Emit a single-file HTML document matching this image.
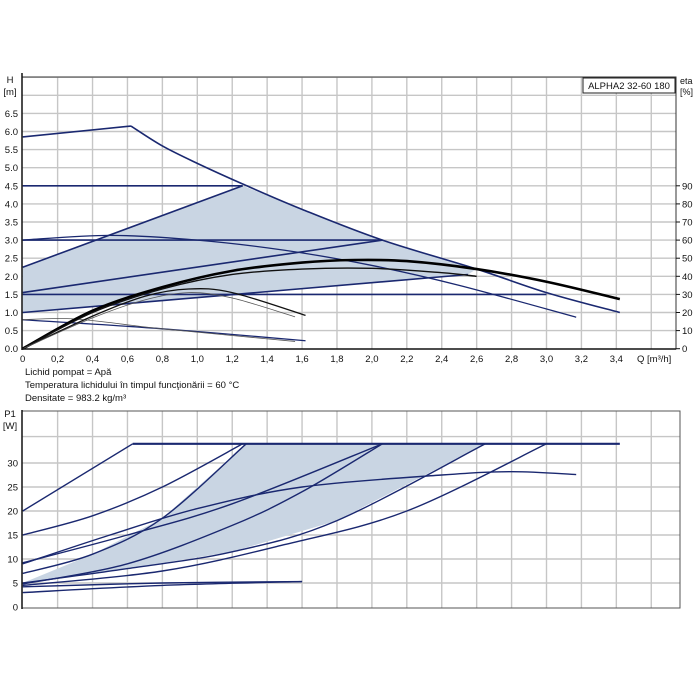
<!DOCTYPE html>
<html><head><meta charset="utf-8"><style>
body{margin:0;background:#fff;}
svg{display:block;font-family:"Liberation Sans",sans-serif;}
</style></head><body>
<svg id="c" width="700" height="700" viewBox="0 0 700 700"></svg>
<script>
// ---- data ----
const xTicks=[0,0.2,0.4,0.6,0.8,1.0,1.2,1.4,1.6,1.8,2.0,2.2,2.4,2.6,2.8,3.0,3.2,3.4];
const hTicks=[0,0.5,1.0,1.5,2.0,2.5,3.0,3.5,4.0,4.5,5.0,5.5,6.0,6.5];
const etaTicks=[0,10,20,30,40,50,60,70,80,90];
const pTicks=[0,5,10,15,20,25,30];
const hMaxLeft=[[0,5.85],[0.62,6.15]];
const hMaxRight=[[0.62,6.15],[0.8,5.6],[1.0,5.12],[1.26,4.55],[1.6,3.85],[2.06,3.0],[2.6,2.2],[3.0,1.55],[3.42,1.0]];
const hConst45=[[0,4.5],[1.26,4.5]];
const hConst30=[[0,3.0],[2.06,3.0]];
const hConst15=[[0,1.5],[3.0,1.5]];
const hProp1=[[0,2.25],[1.26,4.5]];
const hProp2=[[0,1.55],[2.06,3.0]];
const hProp3=[[0,1.0],[2.55,2.05]];
const hCurveMid=[[0,3.0],[0.5,3.13],[1.0,3.0],[1.5,2.72],[2.0,2.3],[2.5,1.75],[3.17,0.87]];
const hLow1=[[0,0.8],[0.8,0.55],[1.62,0.22]];
const hLow2=[[0,0.8],[0.3,0.82],[0.8,0.55],[1.56,0.2]];
const shadeTop=[[0,2.25],[1.26,4.5],[1.6,3.85],[2.06,3.0],[2.6,2.2],[2.55,2.05],[0,1.0]];
const eta1=[[0,0],[0.4,1.05],[0.8,1.7],[1.2,2.15],[1.6,2.38],[1.9,2.45],[2.2,2.42],[2.6,2.2],[3.0,1.85],[3.42,1.37]];
const eta2=[[0,0],[0.4,1.0],[0.8,1.65],[1.2,2.05],[1.6,2.2],[2.0,2.22],[2.4,2.1],[2.6,2.0]];
const eta3=[[0,0],[0.4,0.9],[0.7,1.45],[0.95,1.65],[1.2,1.55],[1.62,0.92]];
const eta4=[[0,0],[0.4,0.85],[0.7,1.35],[0.95,1.55],[1.2,1.4],[1.56,0.88]];
const pMax=[[0.63,34],[3.42,34]];
const pA=[[0,20],[0.63,34]];
const pB=[[0,15],[0.4,19],[0.8,25],[1.26,34]];
const pC=[[0,7],[0.4,11],[0.8,18.5],[1.28,34]];
const pD=[[0,9.2],[0.6,15],[1.2,21.5],[2.06,34]];
const pE=[[0,4.8],[0.6,9],[1.2,17],[1.6,24],[2.06,34]];
const pF=[[0,5],[0.6,8],[1.2,11.5],[1.8,18],[2.65,34]];
const pG=[[0,4.5],[0.8,7.5],[1.5,13],[2.2,20],[3.0,34]];
const pH=[[0,9],[0.5,15],[1.0,20.5],[1.6,25],[2.4,27.5],[2.8,28.2],[3.17,27.6]];
const pL1=[[0,4.2],[0.8,5],[1.6,5.3]];
const pL2=[[0,3],[0.8,4.5],[1.6,5.3]];
const pShade=[[0,5],[0.4,11],[0.8,18.5],[1.28,34],[2.65,34],[1.8,18],[1.2,11.5],[0.6,8]];

const svg=document.getElementById('c');
const NS='http://www.w3.org/2000/svg';
const X=q=>22.7+q*174.6;
const YH=h=>348.7-h*36.2;
const YP=p=>607-p*4.8;
function mk(t,a,p){const e=document.createElementNS(NS,t);for(const k in a)e.setAttribute(k,a[k]);(p||svg).appendChild(e);return e;}
function smooth(pts,xf,yf){
  const P=pts.map(p=>[xf(p[0]),yf(p[1])]);
  if(P.length<3)return 'M'+P.map(p=>p.join(',')).join('L');
  let d='M'+P[0].join(',');
  for(let i=0;i<P.length-1;i++){const p0=P[i-1]||P[i],p1=P[i],p2=P[i+1],p3=P[i+2]||p2;
    d+='C'+(p1[0]+(p2[0]-p0[0])/6)+','+(p1[1]+(p2[1]-p0[1])/6)+' '+(p2[0]-(p3[0]-p1[0])/6)+','+(p2[1]-(p3[1]-p1[1])/6)+' '+p2[0]+','+p2[1];}
  return d;}
function line(pts,yf,name,col,w){const e=mk('path',{d:smooth(pts,X,yf),fill:'none',stroke:col,'stroke-width':w});

}
function poly(pts,yf,name){const e=mk('polygon',{points:pts.map(p=>X(p[0])+','+yf(p[1])).join(' '),fill:'#c9d5e3',stroke:'none'});

}
function txt(x,y,s,a,name,size){const e=mk('text',{x:x,y:y,'font-size':size||9.5,'text-anchor':a||'start',fill:'#111'});e.textContent=s;

}

// ---- top chart ----
const gridC='#c6c6c6';
for(let h=0.5;h<=7.5;h+=0.5){const l=mk('line',{x1:22,x2:676,y1:YH(h),y2:YH(h),stroke:gridC,'stroke-width':1.4});}
for(let q=0.2;q<3.8;q+=0.2){const l=mk('line',{x1:X(q),x2:X(q),y1:77,y2:349,stroke:gridC,'stroke-width':1.4});}
poly(shadeTop,YH,'operating-area-head');
line(hMaxLeft,YH,'max-head-curve-left','#1a2870',1.6);
line(hMaxRight,YH,'max-head-curve-right','#1a2870',1.6);
line(hConst45,YH,'const-pressure-4.5','#1a2870',1.6);
line(hConst30,YH,'const-pressure-3.0','#1a2870',1.6);
line(hConst15,YH,'const-pressure-1.5','#1a2870',1.6);
line(hProp1,YH,'prop-pressure-1','#1a2870',1.6);
line(hProp2,YH,'prop-pressure-2','#1a2870',1.6);
line(hProp3,YH,'prop-pressure-3','#1a2870',1.6);
line(hCurveMid,YH,'mid-speed-curve','#1a2870',1.3);
line(hLow1,YH,'low-speed-curve','#1a2870',1.3);
line(hLow2,YH,'low-speed-curve-2','#555',0.8);
line(eta1,YH,'efficiency-curve-1','#000',2.6);
line(eta2,YH,'efficiency-curve-2','#111',1.4);
line(eta3,YH,'efficiency-curve-3','#111',1.3);
line(eta4,YH,'efficiency-curve-4','#555',0.8);
mk('rect',{x:22,y:77,width:654,height:272,fill:'none',stroke:'#333','stroke-width':1});
mk('line',{x1:22,x2:22,y1:73,y2:350,stroke:'#111','stroke-width':1.5});
mk('line',{x1:22,x2:676,y1:349,y2:349,stroke:'#111','stroke-width':1.5});
hTicks.forEach(h=>txt(18,YH(h)+3.5,h.toFixed(1),'end','h-tick-label'));
xTicks.forEach(q=>txt(X(q),362,q===0?'0':q.toFixed(1).replace('.',','),'middle','q-tick-label'));
etaTicks.forEach(e=>{mk('line',{x1:676,x2:680,y1:YH(e/20),y2:YH(e/20),stroke:'#111'});txt(682,YH(e/20)+3.5,String(e),'start','eta-tick-label');});
txt(10,83,'H','middle','h-axis-title');txt(10,95,'[m]','middle','h-axis-unit');
txt(680,84,'eta','start','eta-axis-title',9);txt(680,95,'[%]','start','eta-axis-unit',9);
txt(637,362,'Q [m³/h]','start','q-axis-title');
mk('rect',{x:583,y:78,width:92,height:15,fill:'#fff',stroke:'#222','stroke-width':1});
txt(629,89,'ALPHA2 32-60 180','middle','model-label');
txt(25,375,'Lichid pompat = Apă','start','liquid-note');
txt(25,388,'Temperatura lichidului în timpul funcţionării = 60 °C','start','temperature-note');
txt(25,401,'Densitate = 983.2 kg/m³','start','density-note');

// ---- bottom chart ----
[5,10,15,20,25,30,35.5].forEach(p=>{const l=mk('line',{x1:22,x2:680,y1:YP(p),y2:YP(p),stroke:gridC,'stroke-width':1.4});});
for(let q=0.2;q<3.8;q+=0.2){const l=mk('line',{x1:X(q),x2:X(q),y1:411,y2:608,stroke:gridC,'stroke-width':1.4});}
poly(pShade,YP,'operating-area-power');
[[pMax,'max-power-line'],[pA,'power-curve-a'],[pB,'power-curve-b'],[pC,'power-curve-c'],[pD,'power-curve-d'],[pE,'power-curve-e'],[pF,'power-curve-f'],[pG,'power-curve-g'],[pH,'power-curve-h'],[pL1,'power-low-1'],[pL2,'power-low-2']].forEach(a=>line(a[0],YP,a[1],'#1a2870',a[1]==='max-power-line'?2.2:1.4));
mk('rect',{x:22,y:411,width:658,height:197,fill:'none',stroke:'#555','stroke-width':1});
mk('line',{x1:22,x2:22,y1:410,y2:609,stroke:'#111','stroke-width':1.5});
pTicks.forEach(p=>txt(18,YP(p)+3.5,String(p),'end','p-tick-label'));
txt(10,417,'P1','middle','p-axis-title');txt(10,429,'[W]','middle','p-axis-unit');
</script>
</body></html>
